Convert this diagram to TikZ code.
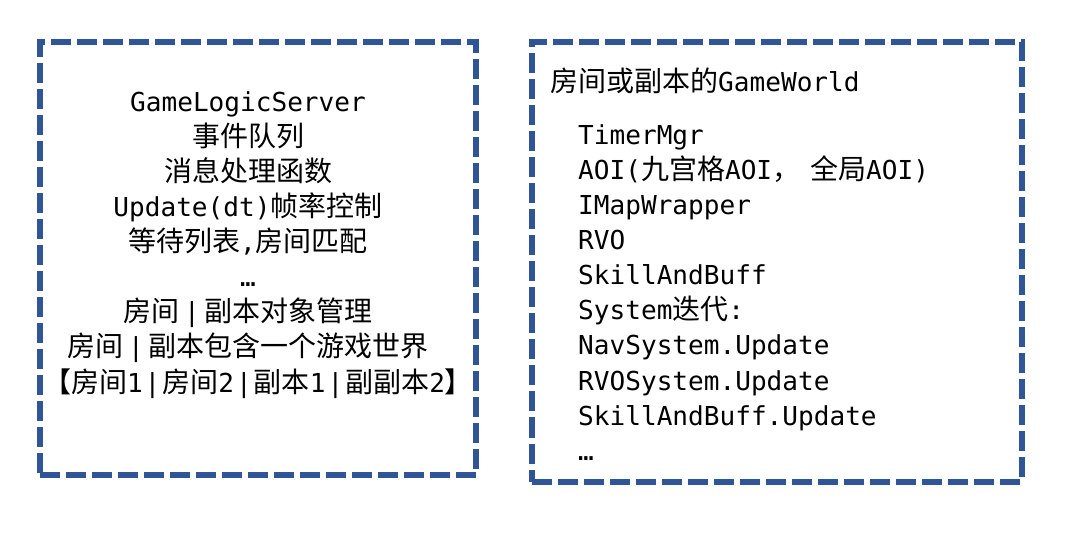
\documentclass[tikz,border=0pt]{standalone}
\usepackage{fontspec}
\setmainfont{Noto Sans CJK SC}
\setmonofont{DejaVu Sans Mono}[Scale=0.932]
\definecolor{boxblue}{HTML}{2F5597}
\newcommand\mono[1]{\texttt{#1}}
\newcommand\pipesep[1]{\hspace{#1}\mono{|}\hspace{#1}}
\begin{document}
\begin{tikzpicture}[x=1bp,y=-1bp,
  box/.style={draw=boxblue, line width=6bp, dash pattern=on 20bp off 6bp, line join=miter, inner sep=0pt, outer sep=0pt},
  ctr/.style={anchor=base, inner sep=0pt, font=\fontsize{28bp}{35bp}\selectfont},
  lft/.style={anchor=base west, inner sep=0pt, font=\fontsize{28bp}{35bp}\selectfont}]
\useasboundingbox (0,0) rectangle (1080,536);
\node[box, minimum width=436bp, minimum height=433bp] (lbox) at (258,258.5) {};
\node[box, minimum width=489.5bp, minimum height=439.5bp] (rbox) at (776.75,261.75) {};
% left box
\node[ctr] (l1) at (248,112) {\mono{GameLogicServer}};
\node[ctr] (l2) at (248,147) {事件队列};
\node[ctr] (l3) at (248,182) {消息处理函数};
\node[ctr] (l4) at (248,217) {\mono{Update(dt)}帧率控制};
\node[ctr] (l5) at (248,252) {等待列表\mono{,}房间匹配};
\node[ctr] (l6) at (248,287) {\mono{…}};
\node[ctr] (l7) at (248,322) {房间\pipesep{5bp}副本对象管理};
\node[ctr] (l8) at (248,357) {房间\pipesep{5bp}副本包含一个游戏世界};
\node[ctr] (l9) at (258,392) {【房间\mono{1}\pipesep{2bp}房间\mono{2}\pipesep{2bp}副本\mono{1}\pipesep{2bp}副副本\mono{2}】};
% right box
\node[lft] (r0) at (550,92) {房间或副本的\mono{GameWorld}};
\node[lft] (r1) at (578,145) {\mono{TimerMgr}};
\node[lft] (r2) at (578,180) {\mono{AOI(}九宫格\mono{AOI}，\hspace{10bp}全局\mono{AOI)}};
\node[lft] (r3) at (578,215) {\mono{IMapWrapper}};
\node[lft] (r4) at (578,250) {\mono{RVO}};
\node[lft] (r5) at (578,285) {\mono{SkillAndBuff}};
\node[lft] (r6) at (578,320) {\mono{System}迭代\mono{:}};
\node[lft] (r7) at (578,355) {\mono{NavSystem.Update}};
\node[lft] (r8) at (578,390) {\mono{RVOSystem.Update}};
\node[lft] (r9) at (578,425) {\mono{SkillAndBuff.Update}};
\node[lft] (r10) at (578,460) {\mono{…}};
\end{tikzpicture}
\end{document}
